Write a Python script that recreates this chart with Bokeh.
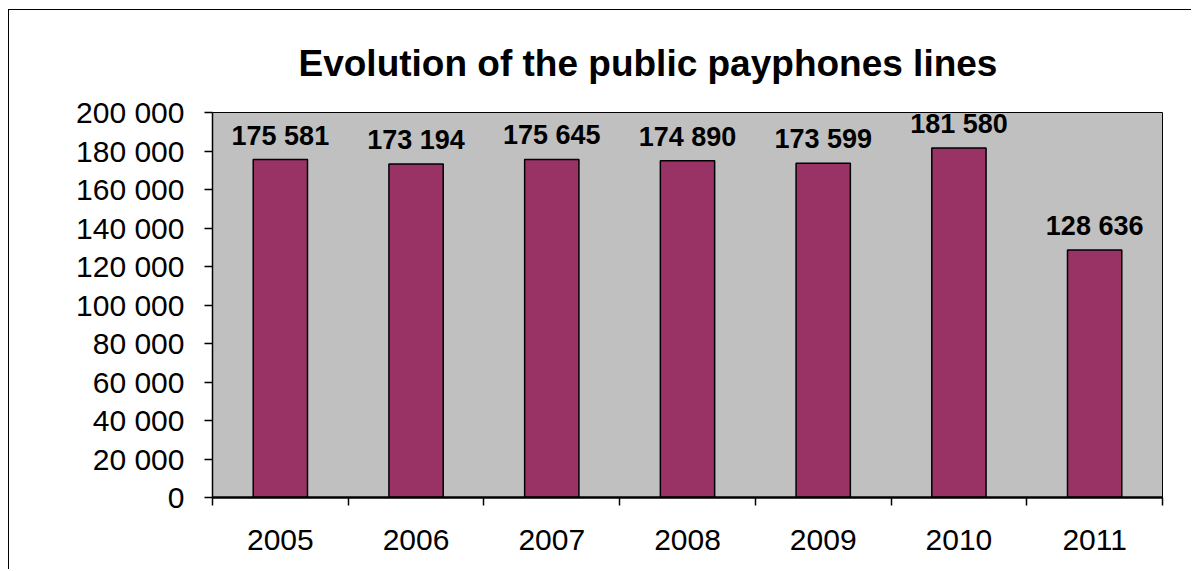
from bokeh.plotting import figure
from bokeh.models import Range1d, FixedTicker, CustomJSTickFormatter, ColumnDataSource, LabelSet
from bokeh.core.properties import value
from bokeh.embed import file_html
from bokeh.resources import INLINE

years = ["2005", "2006", "2007", "2008", "2009", "2010", "2011"]
payphone_lines = [175581, 173194, 175645, 174890, 173599, 181580, 128636]
y_ticks = [0, 20000, 40000, 60000, 80000, 100000, 120000, 140000, 160000, 180000, 200000]
title_text = "Evolution of the public payphones lines"

FONT = "Liberation Sans"

positions = [i + 0.5 for i in range(len(years))]
boundaries = [i for i in range(len(years) + 1)]
value_labels = [f"{v:,}".replace(",", " ") for v in payphone_lines]

src = ColumnDataSource(dict(x=positions, top=payphone_lines, lbl=value_labels))

p = figure(width=1183, height=560,
           x_range=Range1d(0, len(years)), y_range=Range1d(0, 200000),
           output_backend="svg", toolbar_location=None,
           min_border_left=203, min_border_right=30,
           min_border_top=102, min_border_bottom=73)

p.styles = {"border-left": "1px solid black", "border-top": "1px solid black",
            "margin-left": "8px", "margin-top": "9px"}

p.title.text = title_text
p.title.text_font = FONT
p.title.text_font_size = "37px"
p.title.text_font_style = "bold"
p.title.text_color = "black"
p.title.align = "left"
p.title.offset = 86
p.title.standoff = 57

p.background_fill_color = "#C0C0C0"
p.border_fill_color = "white"
p.outline_line_color = "black"
p.outline_line_width = 1
p.xgrid.visible = False
p.ygrid.visible = False

p.vbar(x="x", top="top", width=0.4, source=src,
       fill_color="#993366", line_color="black", line_width=1.5)

p.add_layout(LabelSet(x="x", y="top", text="lbl", source=src,
                      text_align="center", text_baseline="alphabetic", y_offset=15,
                      text_font=value(FONT), text_font_size=value("27px"),
                      text_font_style="bold", text_color="black"))

# y axis
ya = p.yaxis[0]
ya.ticker = FixedTicker(ticks=y_ticks, minor_ticks=[])
ya.formatter = CustomJSTickFormatter(code="return tick.toLocaleString('en-US').replace(/,/g, ' ');")
ya.major_label_text_font = FONT
ya.major_label_text_font_size = "30px"
ya.major_label_text_color = "black"
ya.major_tick_out = 8
ya.major_tick_in = 0
ya.minor_tick_out = 0
ya.minor_tick_in = 0
ya.major_label_standoff = 20
ya.axis_line_color = "black"
ya.axis_line_width = 1.5
ya.major_tick_line_color = "black"
ya.major_tick_line_width = 1.5

# x axis
xa = p.xaxis[0]
xa.ticker = FixedTicker(ticks=positions, minor_ticks=boundaries)
xa.major_label_overrides = {pos: yr for pos, yr in zip(positions, years)}
xa.major_label_text_font = FONT
xa.major_label_text_font_size = "30px"
xa.major_label_text_color = "black"
xa.major_tick_out = 0
xa.major_tick_in = 0
xa.minor_tick_out = 8
xa.minor_tick_in = 0
xa.minor_tick_line_color = "black"
xa.minor_tick_line_width = 1.5
xa.major_label_standoff = 24
xa.axis_line_color = "black"
xa.axis_line_width = 2.5

open("out.html", "w").write(file_html(p, INLINE))
